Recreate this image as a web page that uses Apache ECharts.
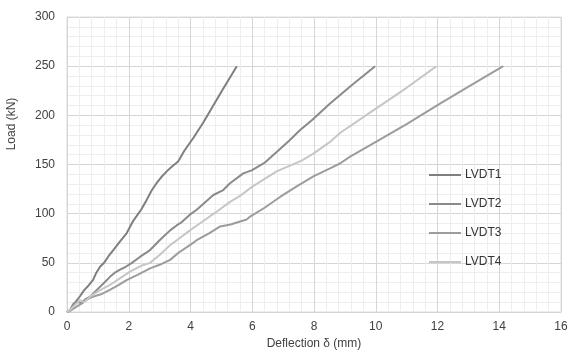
<!DOCTYPE html>
<html>
<head>
<meta charset="utf-8">
<script src="https://cdn.jsdelivr.net/npm/echarts@6/dist/echarts.min.js"></script>
<style>
  html, body { margin: 0; padding: 0; background: #fff; }
  #chart { width: 568px; height: 350px; }
</style>
</head>
<body>
<div id="chart"></div>
<script>
// Load (kN) vs deflection (mm) readings, [deflection, load]
const seriesNames = ['LVDT1', 'LVDT2', 'LVDT3', 'LVDT4']

const lvdt1 = [
  [0, 0], [0.1, 2], [0.25, 9], [0.42, 16], [0.55, 22], [0.7, 27], [0.85, 33],
  [0.95, 40], [1.07, 46], [1.2, 50], [1.35, 57], [1.5, 63], [1.7, 71], [1.93, 80],
  [2.15, 93], [2.4, 104], [2.58, 114], [2.75, 124], [2.9, 131], [3.05, 137],
  [3.23, 143], [3.4, 148], [3.6, 153], [3.8, 164], [4.09, 177], [4.4, 192],
  [4.7, 208], [5.0, 224], [5.25, 237], [5.5, 250]
]

const lvdt2 = [
  [0, 0], [0.1, 2], [0.2, 8], [0.31, 10.5], [0.45, 9], [0.6, 13], [0.75, 15.6],
  [0.95, 22], [1.18, 29], [1.4, 36], [1.55, 40], [1.72, 43], [1.9, 46], [2.1, 50],
  [2.36, 56], [2.69, 63], [3.0, 73], [3.34, 83], [3.55, 88], [3.7, 91], [3.98, 99],
  [4.2, 104], [4.74, 119], [5.06, 124], [5.28, 131], [5.71, 141], [5.98, 144],
  [6.41, 152], [6.8, 163], [7.22, 175], [7.55, 185], [7.93, 195], [8.52, 212],
  [9.2, 230], [9.98, 250]
]

const lvdt3 = [
  [0, 0], [0.1, 1], [0.31, 5.4], [0.5, 9], [0.65, 13], [0.85, 15.6], [1.1, 18],
  [1.39, 22.4], [1.65, 27], [1.93, 32.5], [2.3, 38], [2.69, 44.4], [3.0, 48],
  [3.34, 53], [3.6, 60], [3.98, 68], [4.2, 73], [4.6, 80], [4.96, 87], [5.3, 89],
  [5.5, 91], [5.82, 94], [5.93, 97], [6.4, 106], [6.9, 117], [7.4, 127],
  [7.98, 138], [8.52, 146], [8.84, 151], [9.17, 158], [9.92, 171.5], [11, 191],
  [12.08, 212], [13.1, 231], [14.13, 250]
]

const lvdt4 = [
  [0, 0], [0.1, 2], [0.25, 7], [0.42, 12], [0.55, 10], [0.75, 15.6], [1.0, 21],
  [1.39, 27.5], [1.7, 34], [2.04, 41], [2.4, 47], [2.69, 50], [2.8, 53], [3.0, 58],
  [3.34, 68], [3.6, 74], [3.98, 83], [4.3, 90], [4.8, 101], [5.28, 112], [5.6, 118],
  [5.98, 127], [6.79, 143], [7.6, 154], [7.98, 161], [8.52, 173], [8.84, 182],
  [9.92, 205], [11, 228], [11.97, 250]
]

const seriesData = [lvdt1, lvdt2, lvdt3, lvdt4]
const seriesColors = ['#7f7f7f', '#8a8a8a', '#9c9c9c', '#c6c6c6']

const font = 'Liberation Sans, Arial, sans-serif'
const chart = echarts.init(document.getElementById('chart'))

const axisCommon = {
  axisLine: { show: true, lineStyle: { color: '#d4d4d4' } },
  axisTick: { show: false },
  axisLabel: { color: '#404040', fontSize: 12, fontFamily: font },
  splitLine: { show: true, lineStyle: { color: '#d6d6d6', width: 1 } },
  minorTick: { show: false, splitNumber: 5 },
  minorSplitLine: { show: true, lineStyle: { color: '#eeeeee', width: 1 } }
}

chart.setOption({
  animation: false,
  grid: {
    left: 67, right: 7, top: 17, bottom: 38,
    outerBoundsMode: 'none', containLabel: false,
    show: true, borderColor: '#dcdcdc', borderWidth: 1
  },
  xAxis: {
    type: 'value', min: 0, max: 16, interval: 2,
    name: 'Deflection δ (mm)', nameLocation: 'middle', nameGap: 26,
    nameTextStyle: { color: '#404040', fontSize: 12, fontFamily: font },
    ...axisCommon,
    axisLabel: { ...axisCommon.axisLabel, margin: 9 }
  },
  yAxis: {
    type: 'value', min: 0, max: 300, interval: 50,
    ...axisCommon,
    axisLabel: { ...axisCommon.axisLabel, margin: 12 }
  },
  graphic: [{
    type: 'text', x: 12, y: 124, rotation: Math.PI / 2,
    style: { text: 'Load (kN)', fill: '#404040', font: '12px ' + font, textAlign: 'center', textVerticalAlign: 'middle' }
  }],
  legend: {
    orient: 'vertical', left: 424, top: 164, itemWidth: 32, itemHeight: 2, itemGap: 17,
    icon: 'rect',
    textStyle: { color: '#333', fontSize: 12, fontFamily: font, padding: [0, 0, 0, -1] },
    data: seriesNames
  },
  series: seriesNames.map((name, i) => ({
    type: 'line', name, data: seriesData[i],
    showSymbol: false, smooth: false,
    lineStyle: { color: seriesColors[i], width: 2 },
    itemStyle: { color: seriesColors[i] }
  }))
})
</script>
</body>
</html>
